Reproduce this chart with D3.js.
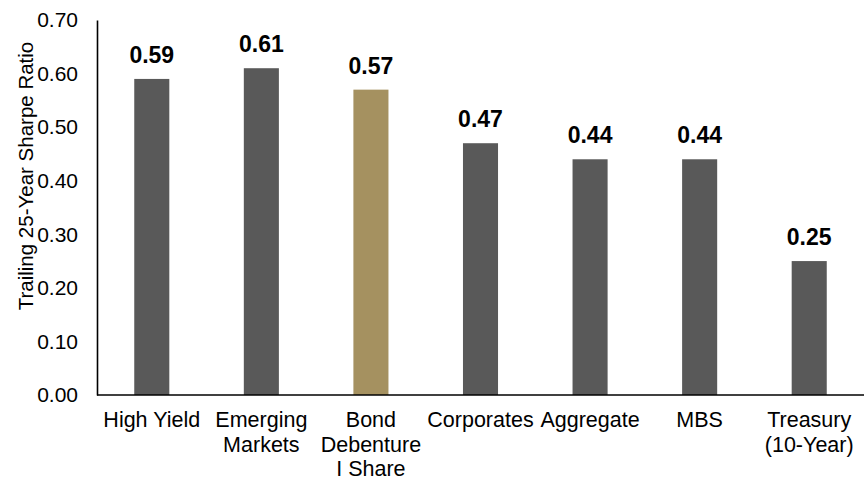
<!DOCTYPE html>
<html>
<head>
<meta charset="utf-8">
<script src="https://cdn.jsdelivr.net/npm/d3@7"></script>
<style>
  body { margin: 0; background: #fff; }
  text { font-family: "Liberation Sans", Arial, sans-serif; fill: #000; }
</style>
</head>
<body>
<div id="chart"></div>
<script>
// data
const categories = [["High Yield"], ["Emerging", "Markets"], ["Bond", "Debenture", "I Share"],
                    ["Corporates"], ["Aggregate"], ["MBS"], ["Treasury", "(10-Year)"]];
const values = [0.59, 0.61, 0.57, 0.47, 0.44, 0.44, 0.25];
const highlight = [false, false, true, false, false, false, false];
const yTicks = [0, 0.1, 0.2, 0.3, 0.4, 0.5, 0.6, 0.7];

const width = 867, height = 481;
const margin = {top: 20, right: 3, bottom: 86, left: 97};

const svg = d3.select("#chart").append("svg")
    .attr("width", width)
    .attr("height", height);

const x = d3.scaleBand()
    .domain(d3.range(values.length))
    .range([margin.left, width - margin.right])
    .paddingInner(0.68)
    .paddingOuter(0.34);

const y = d3.scaleLinear()
    .domain([0, 0.7])
    .range([height - margin.bottom, margin.top]);

// bars
svg.selectAll("rect.bar")
    .data(values)
    .enter()
    .append("rect")
    .attr("class", "bar")
    .attr("x", (d, i) => x(i))
    .attr("y", d => y(d))
    .attr("width", x.bandwidth())
    .attr("height", d => y(0) - y(d))
    .attr("fill", (d, i) => highlight[i] ? "#a59160" : "#595959");

// value labels
svg.selectAll("text.val")
    .data(values)
    .enter()
    .append("text")
    .attr("class", "val")
    .attr("x", (d, i) => x(i) + x.bandwidth() / 2)
    .attr("y", d => y(d) - 16)
    .attr("text-anchor", "middle")
    .style("font-size", "23px")
    .style("font-weight", "bold")
    .text(d => d.toFixed(2));

// y axis
const yAxis = svg.append("g")
    .attr("transform", "translate(" + margin.left + ",0)")
    .call(d3.axisLeft(y).tickValues(yTicks).tickSize(0).tickPadding(19).tickFormat(d3.format(".2f")));
yAxis.select(".domain").attr("stroke", "#000").attr("stroke-width", 1.6);
yAxis.selectAll("text").style("font-size", "21px").style("font-family", "Liberation Sans, Arial, sans-serif");

// x axis line
svg.append("line")
    .attr("x1", margin.left)
    .attr("x2", width - margin.right)
    .attr("y1", y(0))
    .attr("y2", y(0))
    .attr("stroke", "#000")
    .attr("stroke-width", 1.6);

// category labels
const catG = svg.selectAll("text.cat")
    .data(categories)
    .enter()
    .append("text")
    .attr("class", "cat")
    .attr("text-anchor", "middle")
    .attr("x", (d, i) => x(i) + x.bandwidth() / 2)
    .attr("y", 427)
    .style("font-size", "21.5px");
catG.selectAll("tspan")
    .data(d => d)
    .enter()
    .append("tspan")
    .attr("x", function() { return d3.select(this.parentNode).attr("x"); })
    .attr("dy", (d, i) => i === 0 ? 0 : 24.5)
    .text(d => d);

// y axis title
svg.append("text")
    .attr("transform", "translate(33," + 176 + ") rotate(-90)")
    .attr("text-anchor", "middle")
    .style("font-size", "20.5px")
    .text("Trailing 25-Year Sharpe Ratio");
</script>
</body>
</html>
